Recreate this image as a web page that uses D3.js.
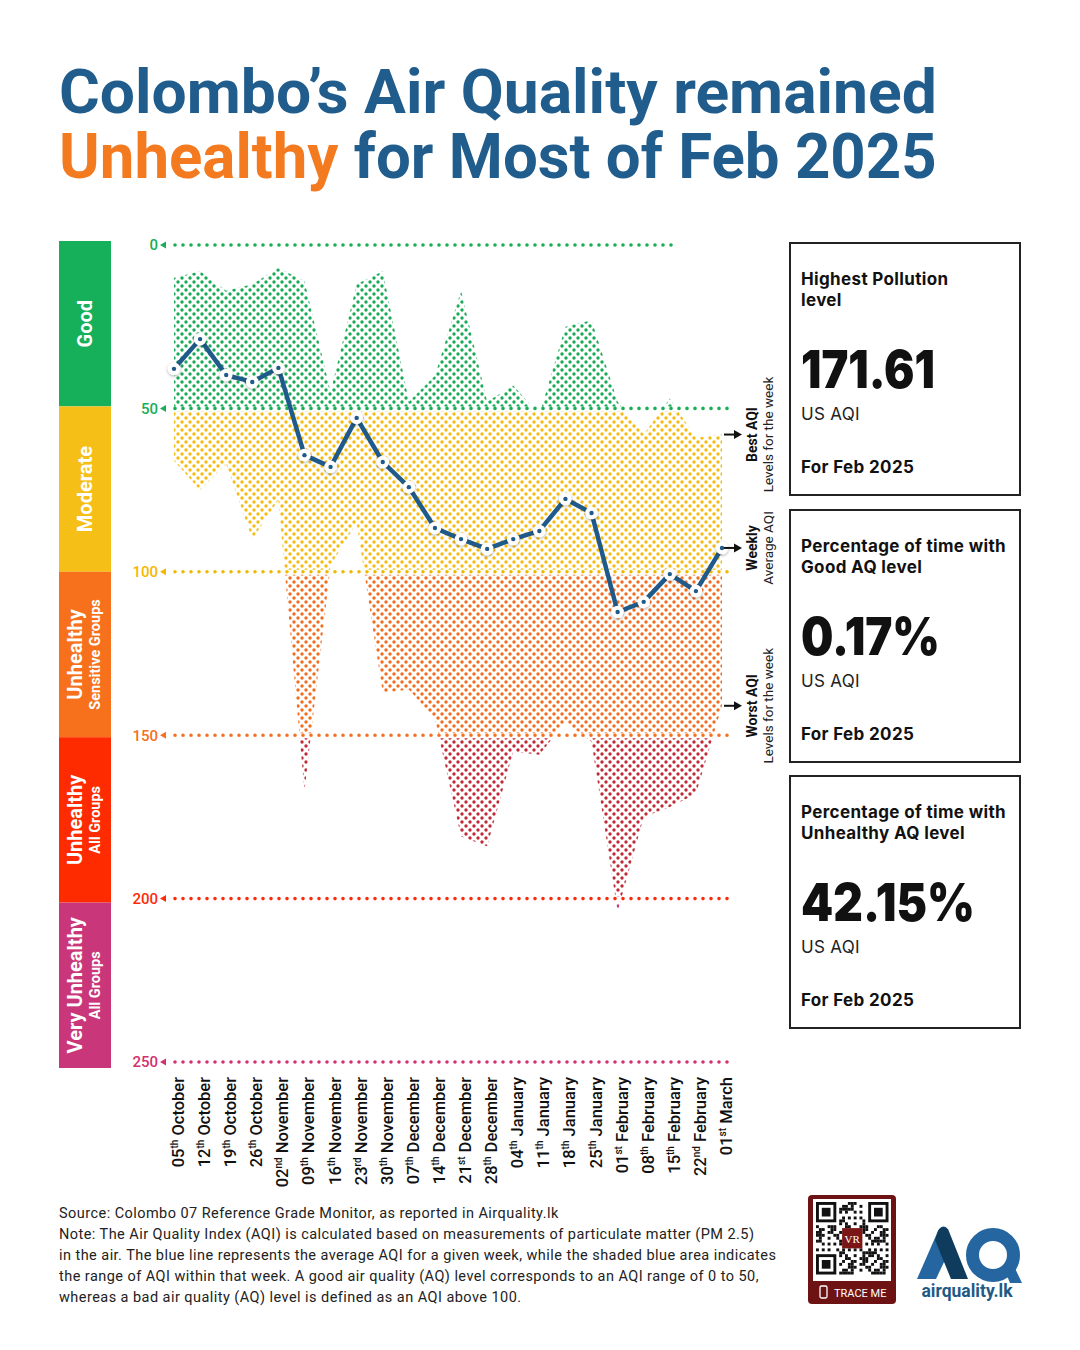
<!DOCTYPE html>
<html><head><meta charset="utf-8">
<script src="https://cdn.jsdelivr.net/npm/d3@7"></script>
<style>body{margin:0;background:#fff}svg{display:block}</style>
</head><body>
<svg id="c" width="1080" height="1350"></svg>
<script>
// ---------- DATA ----------
const weekLabels = ["05th October","12th October","19th October","26th October","02nd November","09th November","16th November","23rd November","30th November","07th December","14th December","21st December","28th December","04th January","11th January","18th January","25th January","01st February","08th February","15th February","22nd February","01st March"];
const weeklyAvg   = [37.9,28.8,39.8,41.9,37.6,64.3,67.9,52.9,66.4,74.1,86.6,90.0,93.0,90.0,87.5,77.7,82.0,112.3,109.2,100.7,105.9,92.7];
const weeklyBest  = [10,8,14,12,7,11,45,12,8,48,40,14,48,43,52,25,23,48,58,47,59,58];
const weeklyWorst = [66,75,67,90,78,167,98,85,137,136,145,181,184,155,156,146,152,204,175,172,168,141];
const yTicks = [0,50,100,150,200,250];
const bandMain = ["Good","Moderate","Unhealthy","Unhealthy","Very Unhealthy"];
const bandSub  = ["","","Sensitive Groups","All Groups","All Groups"];
const statTitle1 = ["Highest Pollution","Percentage of time with","Percentage of time with"];
const statTitle2 = ["level","Good AQ level","Unhealthy AQ level"];
const statValues = ["171.61","0.17%","42.15%"];
const statUnit = "US AQI";
const statPeriod = "For Feb 2025";
const footerLines = [
 "Source: Colombo 07 Reference Grade Monitor, as reported in Airquality.lk",
 "Note: The Air Quality Index (AQI) is calculated based on measurements of particulate matter (PM 2.5)",
 "in the air. The blue line represents the average AQI for a given week, while the shaded blue area indicates",
 "the range of AQI within that week. A good air quality (AQ) level corresponds to an AQI range of 0 to 50,",
 "whereas a bad air quality (AQ) level is defined as an AQI above 100."
];

// ---------- STYLE ----------
const bandColors = ["#17b05a","#f6bf17","#f7711c","#ff2b00","#c9377a"];
const fillColors = ["#19aa55","#f5bb10","#f36c1e","#bf2a36","#c43c82"];
const tickColors = ["#19ad56","#19ad56","#f5b800","#f47121","#ff2a0a","#d2306e"];
const blue = "#1f5a8a";
const titleBlue = "#215d8c";
const orange = "#f47a20";

const svg = d3.select("#c");
const defs = svg.append("defs");
fillColors.forEach((c,i)=>{
  const p = defs.append("pattern").attr("id","dots"+i).attr("patternUnits","userSpaceOnUse")
    .attr("width",8).attr("height",8);
  p.append("circle").attr("cx",2).attr("cy",2).attr("r",1.7).attr("fill",c);
  p.append("circle").attr("cx",6).attr("cy",6).attr("r",1.7).attr("fill",c);
});
const f = defs.append("filter").attr("id","sh").attr("x","-50%").attr("y","-50%").attr("width","200%").attr("height","200%");
f.append("feDropShadow").attr("dx",0).attr("dy",1).attr("stdDeviation",1.5).attr("flood-color","#000").attr("flood-opacity",0.35);

// ---------- TITLE ----------
function fitX(sel, left, width){
  const w = sel.node().getComputedTextLength();
  const sx = width / w;
  sel.attr("transform",`translate(${left},0) scale(${sx},1)`).attr("x",0);
}
const t1 = svg.append("text").attr("y",113).attr("font-family","Roboto").attr("font-weight",700)
  .attr("font-size",62).attr("fill",titleBlue).text("Colombo\u2019s Air Quality remained");
fitX(t1,59,878);
const t2 = svg.append("text").attr("y",178).attr("font-family","Roboto").attr("font-weight",700)
  .attr("font-size",62).attr("fill",titleBlue);
t2.append("tspan").attr("fill",orange).text("Unhealthy");
t2.append("tspan").text(" for Most of Feb 2025");
fitX(t2,59,878);

// ---------- SCALES ----------
const idx = d3.range(weekLabels.length);
const x = d3.scalePoint().domain(idx).range([174,722]);
const y = d3.scaleLinear().domain([0,250]).range([245,1062]);
const yBar = d3.scaleLinear().domain([0,250]).range([241,1068]);

// ---------- LEFT BAND BAR ----------
const bars = svg.append("g");
bandColors.forEach((c,i)=>{
  const y0 = yBar(i*50), y1 = yBar((i+1)*50);
  bars.append("rect").attr("x",59).attr("y",y0).attr("width",52).attr("height",y1-y0).attr("fill",c);
  const cy = (y0+y1)/2;
  if(bandSub[i]===""){
    bars.append("text").attr("transform",`translate(92,${cy}) rotate(-90)`).attr("text-anchor","middle")
      .attr("font-family","Roboto").attr("font-weight",700).attr("font-size",20).attr("fill","#fff").text(bandMain[i]);
  } else {
    bars.append("text").attr("transform",`translate(82,${cy}) rotate(-90)`).attr("text-anchor","middle")
      .attr("font-family","Roboto").attr("font-weight",700).attr("font-size",20).attr("fill","#fff").text(bandMain[i]);
    bars.append("text").attr("transform",`translate(100,${cy}) rotate(-90)`).attr("text-anchor","middle")
      .attr("font-family","Roboto").attr("font-weight",700).attr("font-size",14.5).attr("fill","#fff").text(bandSub[i]);
  }
});

// ---------- RANGE AREA ----------
const data = idx.map(i=>({i, avg:weeklyAvg[i], best:weeklyBest[i], worst:weeklyWorst[i]}));
const area = d3.area().x(d=>x(d.i)).y0(d=>y(d.best)).y1(d=>y(d.worst));
const areaG = svg.append("g");
fillColors.forEach((c,i)=>{
  const top = i===0 ? y(0) : y(i*50)+3;
  const bot = y((i+1)*50)-2;
  defs.append("clipPath").attr("id","clip"+i).append("rect")
    .attr("x",0).attr("y",top).attr("width",1080).attr("height",bot-top);
  areaG.append("path").datum(data).attr("d",area).attr("fill",`url(#dots${i})`)
    .attr("clip-path",`url(#clip${i})`);
});

// ---------- GRID LINES & TICKS ----------
const grid = svg.append("g");
yTicks.forEach((t,k)=>{
  const yy = y(t);
  grid.append("line").attr("x1",175).attr("x2",t===0?675:731).attr("y1",yy).attr("y2",yy)
    .attr("stroke",tickColors[k]).attr("stroke-width",3.6).attr("stroke-linecap","round")
    .attr("stroke-dasharray","0,8");
  grid.append("path").attr("d",`M166,${yy-3.5}L160,${yy}L166,${yy+3.5}Z`).attr("fill",tickColors[k]);
  grid.append("text").attr("x",158).attr("y",yy).attr("dy","0.36em").attr("text-anchor","end")
    .attr("font-family","Roboto").attr("font-weight",500).attr("font-size",15).attr("fill",tickColors[k]).text(t);
});

// ---------- AVERAGE LINE ----------
const line = d3.line().x(d=>x(d.i)).y(d=>y(d.avg));
svg.append("path").datum(data).attr("d",line).attr("fill","none").attr("stroke",blue)
  .attr("stroke-width",4.5).attr("stroke-linejoin","round");
const pts = svg.append("g").selectAll("g").data(data).join("g");
pts.append("circle").attr("cx",d=>x(d.i)).attr("cy",d=>y(d.avg)).attr("r",6.3).attr("fill","#fff").attr("filter","url(#sh)");
pts.append("circle").attr("cx",d=>x(d.i)).attr("cy",d=>y(d.avg)).attr("r",2.2).attr("fill",blue);

// ---------- X LABELS ----------
const xl = svg.append("g");
weekLabels.forEach((lab,i)=>{
  const m = lab.match(/^(\d+)(st|nd|rd|th) (.*)$/);
  const tx = xl.append("text").attr("transform",`translate(${x(i)+10},1077) rotate(-90)`)
    .attr("text-anchor","end").attr("font-family","Roboto").attr("font-weight",500)
    .attr("font-size",16.5).attr("fill","#111");
  tx.append("tspan").text(m[1]);
  tx.append("tspan").attr("font-size",10).attr("dy",-6).text(m[2]);
  tx.append("tspan").attr("dy",6).text(" "+m[3]);
});

// ---------- RIGHT ANNOTATIONS ----------
const last = data[data.length-1];
const ann = [
  {v:last.best, b:"Best AQI", r:"Levels for the week"},
  {v:last.avg, b:"Weekly", r:"Average AQI"},
  {v:last.worst, b:"Worst AQI", r:"Levels for the week"}
];
const an = svg.append("g");
ann.forEach(a=>{
  const yy = y(a.v);
  an.append("line").attr("x1",724).attr("x2",735).attr("y1",yy).attr("y2",yy).attr("stroke","#111").attr("stroke-width",2);
  an.append("path").attr("d",`M734,${yy-4.5}L742,${yy}L734,${yy+4.5}Z`).attr("fill","#111");
  an.append("text").attr("transform",`translate(757,${yy}) rotate(-90)`).attr("text-anchor","middle")
    .attr("font-family","Roboto").attr("font-weight",700).attr("font-size",14).attr("fill","#111").text(a.b);
  an.append("text").attr("transform",`translate(773,${yy}) rotate(-90)`).attr("text-anchor","middle")
    .attr("font-family","Roboto").attr("font-weight",400).attr("font-size",13.5).attr("fill","#222").text(a.r);
});

// ---------- STAT BOXES ----------
const boxTops = [243,510,776];
const vWidths = [134,139,174];
boxTops.forEach((t,i)=>{
  const g = svg.append("g");
  g.append("rect").attr("x",790).attr("y",t).attr("width",230).attr("height",252)
    .attr("fill","none").attr("stroke","#222").attr("stroke-width",2);
  const ff = "Inter";
  g.append("text").attr("x",801).attr("y",t+42).attr("font-family",ff).attr("font-weight",700).attr("font-size",17).attr("letter-spacing",0.35).attr("fill","#111").text(statTitle1[i]);
  g.append("text").attr("x",801).attr("y",t+63).attr("font-family",ff).attr("font-weight",700).attr("font-size",17).attr("letter-spacing",0.35).attr("fill","#111").text(statTitle2[i]);
  const v = g.append("text").attr("y",t+145).attr("font-family",ff).attr("font-weight",900).attr("font-size",52).attr("fill","#111").text(statValues[i]);
  fitX(v,801,vWidths[i]);
  g.append("text").attr("x",801).attr("y",t+177).attr("font-family",ff).attr("font-weight",400).attr("font-size",17).attr("letter-spacing",0.3).attr("fill","#222").text(statUnit);
  g.append("text").attr("x",801).attr("y",t+230).attr("font-family",ff).attr("font-weight",700).attr("font-size",17).attr("letter-spacing",0.35).attr("fill","#111").text(statPeriod);
});

// ---------- FOOTER ----------
footerLines.forEach((l,i)=>{
  svg.append("text").attr("x",59).attr("y",1218+i*21).attr("font-family","Roboto").attr("font-size",14.5)
    .attr("letter-spacing",0.45).attr("fill","#222").text(l);
});

// ---------- QR BADGE ----------
const qr = svg.append("g");
qr.append("rect").attr("x",808).attr("y",1195).attr("width",88).attr("height",109).attr("rx",4).attr("fill","#6e1313");
qr.append("rect").attr("x",813).attr("y",1199).attr("width",78).attr("height",82).attr("fill","#fff");
const N=25, ms=2.9, ox=816, oy=1202;
function finder(cx,cy){
  qr.append("rect").attr("x",ox+cx*ms).attr("y",oy+cy*ms).attr("width",7*ms).attr("height",7*ms).attr("fill","#111");
  qr.append("rect").attr("x",ox+(cx+1)*ms).attr("y",oy+(cy+1)*ms).attr("width",5*ms).attr("height",5*ms).attr("fill","#fff");
  qr.append("rect").attr("x",ox+(cx+2)*ms).attr("y",oy+(cy+2)*ms).attr("width",3*ms).attr("height",3*ms).attr("fill","#111");
}
for(let r=0;r<N;r++)for(let c=0;c<N;c++){
  const inF = (r<8&&c<8)||(r<8&&c>16)||(r>16&&c<8);
  const inC = r>=9&&r<=15&&c>=9&&c<=15;
  if(inF||inC) continue;
  if(((r*7+c*13+r*c*5)%11)<5) qr.append("rect").attr("x",ox+c*ms).attr("y",oy+r*ms).attr("width",ms).attr("height",ms).attr("fill","#111");
}
finder(0,0);finder(18,0);finder(0,18);
qr.append("rect").attr("x",ox+9*ms).attr("y",oy+9*ms).attr("width",7*ms).attr("height",7*ms).attr("fill","#7a1616");
qr.append("text").attr("x",ox+12.5*ms).attr("y",oy+14*ms).attr("text-anchor","middle").attr("font-family","Liberation Serif")
  .attr("font-size",11).attr("fill","#fff").text("VR");
qr.append("rect").attr("x",820).attr("y",1286).attr("width",7).attr("height",12).attr("rx",1.5).attr("fill","none").attr("stroke","#fff").attr("stroke-width",1.3);
qr.append("text").attr("x",834).attr("y",1297).attr("font-family","Roboto").attr("font-size",11).attr("fill","#fff").text("TRACE ME");

// ---------- AQ LOGO ----------
const lg = svg.append("g");
lg.append("path").attr("d","M917,1279 L938,1231 Q941,1225 946,1227 L953,1243 L936,1279 Z").attr("fill","#2566a0");
lg.append("path").attr("d","M938,1231 Q942,1224 948,1229 L968,1279 L951,1279 L935,1240 Z").attr("fill","#0f3b5d");
lg.append("circle").attr("cx",993).attr("cy",1255).attr("r",20.5).attr("fill","none").attr("stroke","#2566a0").attr("stroke-width",13);
lg.append("path").attr("d","M1003,1266 L1012,1262 L1022,1283 L1010,1283 Z").attr("fill","#2566a0");
lg.append("text").attr("x",967).attr("y",1297).attr("text-anchor","middle").attr("font-family","Roboto").attr("font-weight",700)
  .attr("font-size",17.5).attr("fill","#1f5a85").text("airquality.lk");
</script>
</body></html>
